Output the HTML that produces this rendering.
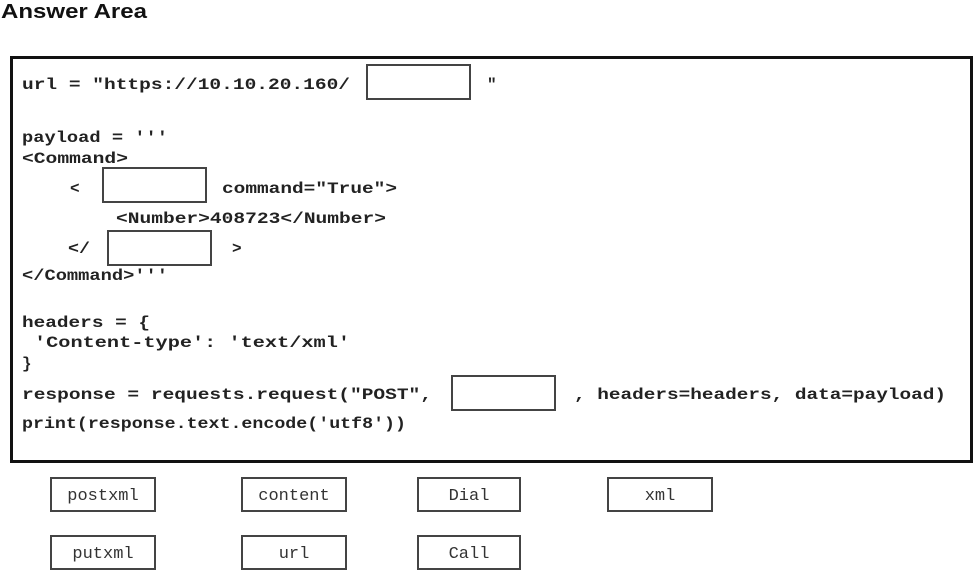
<!DOCTYPE html>
<html><head><meta charset="utf-8"><style>
html,body{margin:0;padding:0;background:#fff;width:974px;height:571px;overflow:hidden}
svg{display:block}
.c{font-family:"Liberation Mono",monospace;font-weight:bold;font-size:16px;fill:#222}
.b{font-family:"Liberation Mono",monospace;font-size:17px;fill:#333}
</style></head><body>
<svg width="974" height="571" viewBox="0 0 974 571" xmlns="http://www.w3.org/2000/svg">
<text x="1" y="18" font-family="Liberation Sans, sans-serif" font-weight="bold" font-size="20" fill="#111" textLength="146" lengthAdjust="spacingAndGlyphs">Answer Area</text>
<rect x="11.5" y="57.5" width="960" height="404" fill="#fff" stroke="#111" stroke-width="3"/>
<g fill="#fff" stroke="#444" stroke-width="2">
<rect x="367" y="65" width="103" height="34"/>
<rect x="103" y="168" width="103" height="34"/>
<rect x="108" y="231" width="103" height="34"/>
<rect x="452" y="376" width="103" height="34"/>
</g>
<g class="c">
<text x="22" y="89" textLength="328" lengthAdjust="spacingAndGlyphs">url = "https://10.10.20.160/</text>
<text x="487" y="89">"</text>
<text x="22" y="142" textLength="146" lengthAdjust="spacingAndGlyphs">payload = '''</text>
<text x="22" y="163" textLength="106" lengthAdjust="spacingAndGlyphs">&lt;Command&gt;</text>
<text x="70" y="193">&lt;</text>
<text x="222" y="193" textLength="175" lengthAdjust="spacingAndGlyphs">command="True"&gt;</text>
<text x="116" y="223" textLength="270" lengthAdjust="spacingAndGlyphs">&lt;Number&gt;408723&lt;/Number&gt;</text>
<text x="68" y="253" textLength="22" lengthAdjust="spacingAndGlyphs">&lt;/</text>
<text x="232" y="253">&gt;</text>
<text x="22" y="280" textLength="146" lengthAdjust="spacingAndGlyphs">&lt;/Command&gt;'''</text>
<text x="22" y="327" textLength="128" lengthAdjust="spacingAndGlyphs">headers = {</text>
<text x="34" y="347" textLength="316" lengthAdjust="spacingAndGlyphs">'Content-type': 'text/xml'</text>
<text x="22" y="368">}</text>
<text x="22" y="399" textLength="410" lengthAdjust="spacingAndGlyphs">response = requests.request("POST",</text>
<text x="574" y="399" textLength="372" lengthAdjust="spacingAndGlyphs">, headers=headers, data=payload)</text>
<text x="22" y="428" textLength="384" lengthAdjust="spacingAndGlyphs">print(response.text.encode('utf8'))</text>
</g>
<g fill="#fff" stroke="#444" stroke-width="2">
<rect x="51" y="478" width="104" height="33"/>
<rect x="242" y="478" width="104" height="33"/>
<rect x="418" y="478" width="102" height="33"/>
<rect x="608" y="478" width="104" height="33"/>
<rect x="51" y="536" width="104" height="33"/>
<rect x="242" y="536" width="104" height="33"/>
<rect x="418" y="536" width="102" height="33"/>
</g>
<g class="b" text-anchor="middle">
<text x="103" y="500">postxml</text>
<text x="294" y="500">content</text>
<text x="469" y="500">Dial</text>
<text x="660" y="500">xml</text>
<text x="103" y="558">putxml</text>
<text x="294" y="558">url</text>
<text x="469" y="558">Call</text>
</g>
</svg>
</body></html>
